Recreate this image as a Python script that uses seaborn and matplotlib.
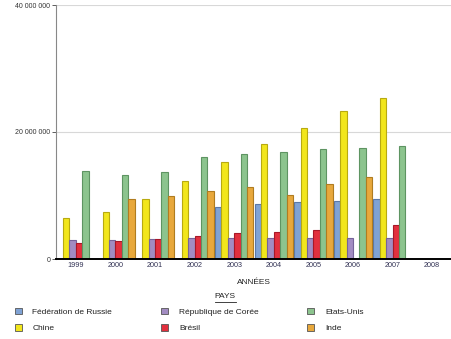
import numpy as np
import pandas as pd
import matplotlib
matplotlib.use("Agg")
import matplotlib.pyplot as plt
from matplotlib.lines import Line2D
from matplotlib.ticker import FuncFormatter
import seaborn as sns

years = ["1999", "2000", "2001", "2002", "2003", "2004", "2005", "2006", "2007", "2008"]
nan = np.nan
russie = [nan, nan, nan, nan, 8.17e6, 8.6e6, 8.93e6, 9.18e6, 9.4e6, nan]
chine = [6.43e6, 7.43e6, 9.43e6, 12.22e6, 15.23e6, 18.06e6, 20.58e6, 23.3e6, 25.3e6, nan]
coree = [2.95e6, 3.05e6, 3.16e6, 3.27e6, 3.27e6, 3.26e6, 3.26e6, 3.26e6, 3.26e6, nan]
bresil = [2.53e6, 2.84e6, 3.16e6, 3.64e6, 4.06e6, 4.3e6, 4.57e6, nan, 5.3e6, nan]
etats_unis = [13.8e6, 13.28e6, 13.65e6, 16.0e6, 16.6e6, 16.9e6, 17.28e6, 17.48e6, 17.75e6, nan]
inde = [nan, 9.43e6, 9.85e6, 10.64e6, 11.3e6, 10.03e6, 11.81e6, 12.86e6, nan, nan]

series_names = ["Fédération de Russie", "Chine", "République de Corée", "Brésil", "Etats-Unis", "Inde"]
series_values = [russie, chine, coree, bresil, etats_unis, inde]
colors = ["#7fa2d4", "#f2e61c", "#a28cc2", "#e2303e", "#8cc48e", "#e8a83c"]
edges = ["#5a78a8", "#b8aa10", "#76649a", "#a81828", "#5e9462", "#b07c20"]

rows = []
for name, vals in zip(series_names, series_values):
    for y, v in zip(years, vals):
        rows.append({"ANNÉES": y, "PAYS": name, "val": v})
df = pd.DataFrame(rows)

plt.rcParams["font.family"] = ["Liberation Sans", "DejaVu Sans"]
fig = plt.figure(figsize=(4.52, 3.39), dpi=100)
ax = fig.add_axes([56 / 452, 1 - 259 / 339, 396 / 452, 254 / 339])

sns.barplot(data=df, x="ANNÉES", y="val", hue="PAYS", order=years,
            hue_order=series_names, palette=colors, width=0.97, gap=0,
            errorbar=None, ax=ax, legend=False, linewidth=0.8, saturation=1)

for cont, ec in zip(ax.containers, edges):
    for p in cont.patches:
        p.set_edgecolor(ec)
        p.set_linewidth(0.8)

ax.set_ylim(0, 40e6)
ax.set_xlim(-0.5, len(years) - 0.5)
ax.set_yticks([0, 20e6, 40e6])
ax.yaxis.set_major_formatter(FuncFormatter(lambda v, p: f"{int(v):,}".replace(",", " ")))
ax.grid(axis="y", color="#d8d8d8", linewidth=0.8)
ax.set_axisbelow(True)
for s in ["top", "right"]:
    ax.spines[s].set_visible(False)
ax.spines["left"].set_color("#888888")
ax.spines["left"].set_linewidth(0.8)
ax.spines["bottom"].set_color("black")
ax.spines["bottom"].set_linewidth(1.4)
ax.tick_params(axis="y", length=3, width=0.6, color="#444444", labelsize=5, labelcolor="#333333", pad=1)
ax.tick_params(axis="x", length=0, labelsize=5.2, labelcolor="#333355", pad=2)
ax.set_ylabel("")
ax.set_xlabel("ANNÉES", fontsize=6, color="#222222", labelpad=7)

handles = [plt.Rectangle((0, 0), 1, 1, facecolor=c, edgecolor="#555555", linewidth=0.6)
           for c in colors]
leg = fig.legend(handles, series_names, ncol=3, loc="upper left",
                 bbox_to_anchor=(7 / 452, 1 - 300 / 339), frameon=False,
                 fontsize=6, handlelength=0.85, handleheight=0.85,
                 handletextpad=1.3, columnspacing=5.86, labelspacing=0.99)
for t in leg.get_texts():
    t.set_color("#222222")

fig.text(225 / 452, 1 - 296.5 / 339, "PAYS", ha="center", va="center", fontsize=6, color="#222222")
fig.add_artist(Line2D([215 / 452, 236 / 452], [1 - 301.5 / 339, 1 - 301.5 / 339],
                      color="#222222", linewidth=0.6, transform=fig.transFigure))

fig.savefig("out.png", dpi=100, facecolor="white")
